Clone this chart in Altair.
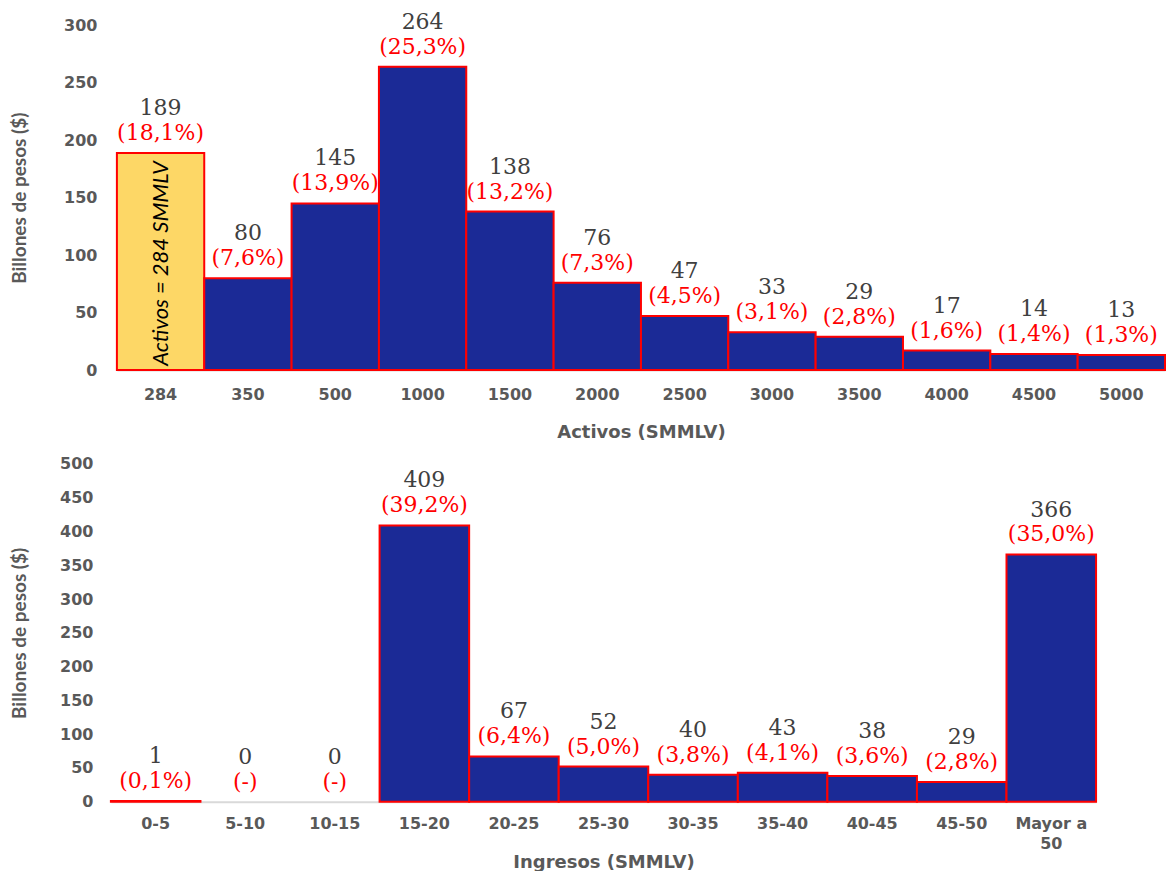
import altair as alt
import pandas as pd

# Activos (SMMLV) panel
activos_cat = ["284", "350", "500", "1000", "1500", "2000", "2500", "3000", "3500", "4000", "4500", "5000"]
activos_val = [189, 80, 145, 264, 138, 76, 47, 33, 29, 17, 14, 13]
activos_pct = ["(18,1%)", "(7,6%)", "(13,9%)", "(25,3%)", "(13,2%)", "(7,3%)", "(4,5%)", "(3,1%)",
               "(2,8%)", "(1,6%)", "(1,4%)", "(1,3%)"]
activos_lbl = ["189", "80", "145", "264", "138", "76", "47", "33", "29", "17", "14", "13"]

# Ingresos (SMMLV) panel
ingresos_cat = ["0-5", "5-10", "10-15", "15-20", "20-25", "25-30", "30-35", "35-40", "40-45", "45-50", "Mayor a 50"]
ingresos_val = [1, 0, 0, 409, 67, 52, 40, 43, 38, 29, 366]
ingresos_pct = ["(0,1%)", "(-)", "(-)", "(39,2%)", "(6,4%)", "(5,0%)", "(3,8%)", "(4,1%)", "(3,6%)",
                "(2,8%)", "(35,0%)"]
ingresos_lbl = ["1", "0", "0", "409", "67", "52", "40", "43", "38", "29", "366"]

BLUE = "#1B2A96"
GOLD = "#FDD766"
RED = "#FF0000"
GRAY = "#595959"
VAL_GRAY = "#404040"

df_a = pd.DataFrame({"cat": activos_cat, "value": activos_val, "pct": activos_pct, "lbl": activos_lbl,
                     "highlight": [c == "284" for c in activos_cat]})
df_a["mid"] = df_a["value"] / 2
df_i = pd.DataFrame({"cat": ingresos_cat, "value": ingresos_val, "pct": ingresos_pct, "lbl": ingresos_lbl})

y_axis = dict(domain=False, ticks=False, grid=False, labelOverlap=False, labelFont="DejaVu Sans",
              labelFontWeight="bold", labelFontSize=16, labelColor=GRAY, titleFont="Lato",
              titleFontWeight="bold", titleFontSize=19, titleColor=GRAY)
x_axis = dict(domain=True, domainColor="#D9D9D9", domainWidth=2, ticks=False, grid=False, labelAngle=0,
              labelFont="DejaVu Sans", labelFontWeight="bold", labelFontSize=16, labelColor=GRAY,
              titleFont="DejaVu Sans", titleFontWeight="bold", titleFontSize=18, titleColor=GRAY)


def encodings(df, title, ymax, step, xrange, ypad, xlabpad, xtitlepad, label_expr=None):
    order = list(df["cat"])
    xa = dict(x_axis)
    xa["labelPadding"] = xlabpad
    xa["titlePadding"] = xtitlepad
    if label_expr:
        xa["labelExpr"] = label_expr
        xa["labelLineHeight"] = 20
    x = alt.X("cat:N", sort=order, title=title, axis=alt.Axis(**xa),
              scale=alt.Scale(paddingInner=0, paddingOuter=0, range=xrange))
    yaxis = alt.Axis(values=list(range(0, ymax + 1, step)), labelPadding=ypad,
                     titlePadding=34 + (20 - ypad), **y_axis)
    yscale = alt.Scale(domain=[0, ymax], nice=False)

    def y(field):
        return alt.Y(f"{field}:Q", title="Billones de pesos ($)", scale=yscale, axis=yaxis)
    return x, y


def panel(df, x, y):
    base = alt.Chart(df)
    if "highlight" in df.columns:
        fill = alt.condition("datum.highlight", alt.value(GOLD), alt.value(BLUE))
    else:
        fill = alt.value(BLUE)
    # zero-valued classes get no bar, only their labels
    bars = base.transform_filter("datum.value > 0").mark_bar(stroke=RED, strokeWidth=2).encode(
        x=x, y=y("value"), fill=fill)
    pct = base.mark_text(font="DejaVu Serif", fontSize=22, color=RED, baseline="middle", dy=-20).encode(
        x=x, y=y("value"), text="pct:N")
    val = base.mark_text(font="DejaVu Serif", fontSize=22, color=VAL_GRAY, baseline="middle", dy=-45).encode(
        x=x, y=y("value"), text="lbl:N")
    return [bars, pct, val]


xa_, ya_ = encodings(df_a, "Activos (SMMLV)", 300, 50, [0, 1049], 20, 16, 22)
top_layers = panel(df_a, xa_, ya_)
# Rotated caption inside the highlighted first bar
caption = alt.Chart(df_a).transform_filter("datum.highlight").transform_calculate(
    note="'Activos = 284 SMMLV'"
).mark_text(font="Lato", fontStyle="italic", fontSize=22, angle=270, color="#000000",
            baseline="middle", dx=-2).encode(x=xa_, y=ya_("mid"), text="note:N")
top = alt.layer(*top_layers, caption).properties(width=1049, height=345)

xi_, yi_ = encodings(df_i, "Ingresos (SMMLV)", 500, 50, [-6, 980], 24, 14, 2,
                     label_expr="datum.label == 'Mayor a 50' ? ['Mayor a', '50'] : datum.label")
bottom = alt.layer(*panel(df_i, xi_, yi_)).properties(width=980, height=338)

chart = alt.vconcat(top, bottom, spacing=14).properties(
    padding={"left": 10, "top": 10, "right": 0, "bottom": 0}
).configure_view(stroke=None).configure_axisY(labelOverlap=False)

chart.save("out.html", embed_options={"renderer": "svg", "actions": False})
